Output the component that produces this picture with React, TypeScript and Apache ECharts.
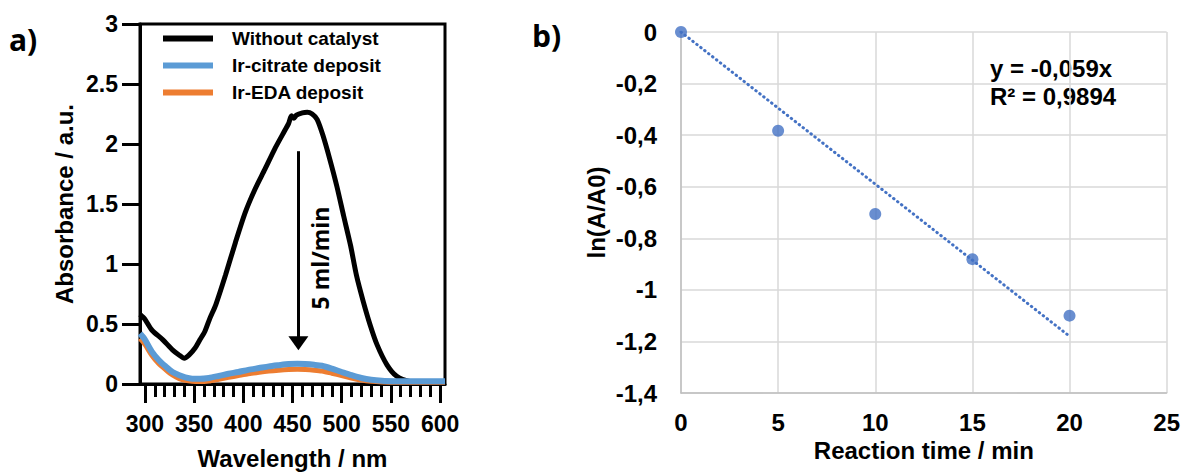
import React, { useEffect, useRef } from "react";
import * as echarts from "echarts";

// ---- Panel a) UV-vis spectra ----
const wlBlack = [295, 300, 307, 318, 328, 335, 340, 345, 351, 356, 361, 366, 372, 382, 392, 402, 412, 422, 432, 442, 446, 449, 451.5, 454, 460, 465, 470, 475, 481, 488, 495, 502, 509, 515, 522, 529, 536, 546, 556, 569, 590, 605];
const absBlack = [0.58, 0.54, 0.45, 0.37, 0.285, 0.24, 0.215, 0.243, 0.3, 0.37, 0.44, 0.547, 0.66, 0.91, 1.18, 1.43, 1.625, 1.79, 1.96, 2.11, 2.17, 2.235, 2.215, 2.24, 2.26, 2.265, 2.25, 2.205, 2.07, 1.87, 1.65, 1.4, 1.155, 0.906, 0.685, 0.49, 0.326, 0.16, 0.064, 0.022, 0.008, 0.005];

const wlDeposit = [295, 300, 307, 314, 321, 328, 335, 341, 348, 356, 365, 375, 385, 395, 405, 416, 426, 436, 446, 455, 463, 472, 480, 490, 500, 510, 520, 530, 541, 555, 568, 585, 605];
const absCitrate = [0.42, 0.37, 0.27, 0.2, 0.147, 0.1, 0.072, 0.055, 0.044, 0.043, 0.05, 0.067, 0.085, 0.1, 0.118, 0.133, 0.147, 0.157, 0.166, 0.169, 0.166, 0.16, 0.152, 0.128, 0.1, 0.073, 0.05, 0.035, 0.027, 0.023, 0.022, 0.022, 0.022];
const absEDA = [0.38, 0.33, 0.24, 0.17, 0.12, 0.075, 0.045, 0.03, 0.022, 0.02, 0.025, 0.04, 0.055, 0.07, 0.085, 0.098, 0.108, 0.115, 0.12, 0.122, 0.12, 0.115, 0.108, 0.09, 0.07, 0.05, 0.032, 0.022, 0.017, 0.015, 0.015, 0.015, 0.015];

const wlMajorTicks = [300, 350, 400, 450, 500, 550, 600];
const wlMinorTicks = [310, 320, 330, 340, 360, 370, 380, 390, 410, 420, 430, 440, 460, 470, 480, 490, 510, 520, 530, 540, 560, 570, 580, 590];

const seriesNames = ["Without catalyst", "Ir-citrate deposit", "Ir-EDA deposit"];

// arrow annotation ("5 ml/min")
const arrowWl = 456;
const arrowFrom = 1.94;
const arrowTo = 0.34;

// ---- Panel b) kinetics ----
const timeMin = [0, 5, 10, 15, 20];
const lnRatio = [0, -0.383, -0.706, -0.881, -1.1];
const trendX = [0, 20];
const trendY = [0, -1.18];

const BOLD_ARIAL = "Liberation Sans, Arial, sans-serif";
const CAL = "Open Sans, Noto Sans, sans-serif";

export default function App() {
  const ref = useRef<HTMLDivElement>(null);

  useEffect(() => {
    document.body.style.margin = "0";
    const chart = echarts.init(ref.current!, null, { renderer: "svg" });

    const axisLabelA = {
      fontFamily: BOLD_ARIAL,
      fontWeight: "bold" as const,
      fontSize: 23,
      color: "#000",
    };

    const option: any = {
      animation: false,
      backgroundColor: "#fff",
      legend: {
        data: seriesNames,
        orient: "vertical",
        left: 158,
        top: 24,
        itemWidth: 50,
        itemHeight: 6,
        itemGap: 8,
        icon: "rect",
        textStyle: {
          fontFamily: BOLD_ARIAL,
          fontWeight: "bold",
          fontSize: 19,
          lineHeight: 18,
          color: "#000",
          padding: [0, 0, 0, 14],
        },
      },
      grid: [
        { left: 140, top: 24, width: 305, height: 362, show: true, borderColor: "#000", borderWidth: 3, backgroundColor: "transparent" },
        { left: 681, top: 32, width: 487, height: 361 },
      ],
      xAxis: [
        {
          type: "value",
          gridIndex: 0,
          min: 295,
          max: 605,
          name: "Wavelength / nm",
          nameLocation: "middle",
          nameGap: 62,
          nameTextStyle: { fontFamily: BOLD_ARIAL, fontWeight: "bold", fontSize: 24, color: "#000" },
          axisLine: { show: true, onZero: false, lineStyle: { color: "#000", width: 3 } },
          axisTick: { show: true, customValues: wlMajorTicks, length: 19, lineStyle: { color: "#000", width: 3 } },
          axisLabel: { ...axisLabelA, customValues: wlMajorTicks, margin: 28 },
          splitLine: { show: false },
        },
        {
          type: "value",
          gridIndex: 0,
          min: 295,
          max: 605,
          position: "bottom",
          axisLine: { show: false, onZero: false },
          axisTick: { show: true, customValues: wlMinorTicks, length: 13, lineStyle: { color: "#000", width: 3 } },
          axisLabel: { show: false },
          splitLine: { show: false },
        },
        {
          type: "value",
          gridIndex: 1,
          min: 0,
          max: 25,
          interval: 5,
          name: "Reaction time / min",
          nameLocation: "middle",
          nameGap: 45,
          nameTextStyle: { fontFamily: BOLD_ARIAL, fontWeight: "bold", fontSize: 24, color: "#000" },
          axisLine: { show: true, onZero: false, lineStyle: { color: "#bfbfbf", width: 1.5 } },
          axisTick: { show: false },
          axisLabel: { ...axisLabelA, fontSize: 24, margin: 17 },
          splitLine: { show: true, lineStyle: { color: "#d9d9d9", width: 1.5 } },
        },
      ],
      yAxis: [
        {
          type: "value",
          gridIndex: 0,
          min: 0,
          max: 3,
          interval: 0.5,
          name: "Absorbance / a.u.",
          nameLocation: "middle",
          nameGap: 64,
          nameTextStyle: { fontFamily: BOLD_ARIAL, fontWeight: "bold", fontSize: 24, color: "#000" },
          axisLine: { show: true, lineStyle: { color: "#000", width: 3 } },
          axisTick: { show: true, length: 18, lineStyle: { color: "#000", width: 3 } },
          axisLabel: { ...axisLabelA, margin: 22 },
          splitLine: { show: false },
        },
        {
          type: "value",
          gridIndex: 1,
          min: -1.4,
          max: 0,
          interval: 0.2,
          name: "ln(A/A0)",
          nameLocation: "middle",
          nameGap: 73,
          nameTextStyle: { fontFamily: BOLD_ARIAL, fontWeight: "bold", fontSize: 24, color: "#000" },
          axisLine: { show: true, onZero: false, lineStyle: { color: "#bfbfbf", width: 1.5 } },
          axisTick: { show: false },
          axisLabel: {
            ...axisLabelA,
            fontSize: 24,
            margin: 24,
            formatter: (v: number) => (Math.abs(v) < 1e-9 ? "0" : String(+v.toFixed(1)).replace(".", ",")),
          },
          splitLine: { show: true, lineStyle: { color: "#d9d9d9", width: 1.5 } },
        },
      ],
      series: [
        {
          name: seriesNames[0],
          type: "line",
          xAxisIndex: 0,
          yAxisIndex: 0,
          showSymbol: false,
          smooth: 0.25,
          color: "#000",
          lineStyle: { color: "#000", width: 5 },
          data: wlBlack.map((x, i) => [x, absBlack[i]]),
          markLine: {
            silent: true,
            symbol: ["none", "triangle"],
            symbolSize: [20, 14],
            lineStyle: { color: "#000", width: 3, type: "solid" },
            itemStyle: { color: "#000" },
            label: { show: false },
            data: [[{ coord: [arrowWl, arrowFrom] }, { coord: [arrowWl, arrowTo] }]],
          },
        },
        {
          name: seriesNames[2],
          type: "line",
          xAxisIndex: 0,
          yAxisIndex: 0,
          showSymbol: false,
          smooth: 0.25,
          color: "#ed7d31",
          lineStyle: { color: "#ed7d31", width: 5 },
          data: wlDeposit.map((x, i) => [x, absEDA[i]]),
        },
        {
          name: seriesNames[1],
          type: "line",
          xAxisIndex: 0,
          yAxisIndex: 0,
          showSymbol: false,
          smooth: 0.25,
          color: "#5b9bd5",
          lineStyle: { color: "#5b9bd5", width: 6 },
          data: wlDeposit.map((x, i) => [x, absCitrate[i]]),
        },
        {
          name: "trend",
          type: "line",
          xAxisIndex: 2,
          yAxisIndex: 1,
          showSymbol: false,
          color: "#4472c4",
          lineStyle: { color: "#4472c4", width: 3, type: [0.5, 4.5], cap: "round" },
          data: trendX.map((x, i) => [x, trendY[i]]),
        },
        {
          name: "ln(A/A0)",
          type: "scatter",
          xAxisIndex: 2,
          yAxisIndex: 1,
          symbolSize: 12,
          itemStyle: { color: "#4472c4" },
          data: timeMin.map((x, i) => [x, lnRatio[i]]),
        },
      ],
      graphic: [
        { type: "text", left: 9, top: 24, style: { text: "a)", font: `bold 30px ${CAL}`, fill: "#000" } },
        { type: "text", left: 532, top: 20, style: { text: "b)", font: `bold 30px ${CAL}`, fill: "#000" } },
        {
          type: "text",
          x: 320,
          y: 258,
          rotation: Math.PI / 2,
          style: { text: "5 ml/min", font: `bold 23px ${CAL}`, fill: "#000", align: "center", verticalAlign: "middle" },
        },
        { type: "text", x: 990, y: 68, style: { text: "y = -0,059x", font: `bold 24px ${BOLD_ARIAL}`, fill: "#000", verticalAlign: "middle" } },
        { type: "text", x: 990, y: 96, style: { text: "R² = 0,9894", font: `bold 24px ${BOLD_ARIAL}`, fill: "#000", verticalAlign: "middle" } },
      ],
    };

    chart.setOption(option);
    return () => chart.dispose();
  }, []);

  return <div ref={ref} style={{ width: 1183, height: 475 }} />;
}
